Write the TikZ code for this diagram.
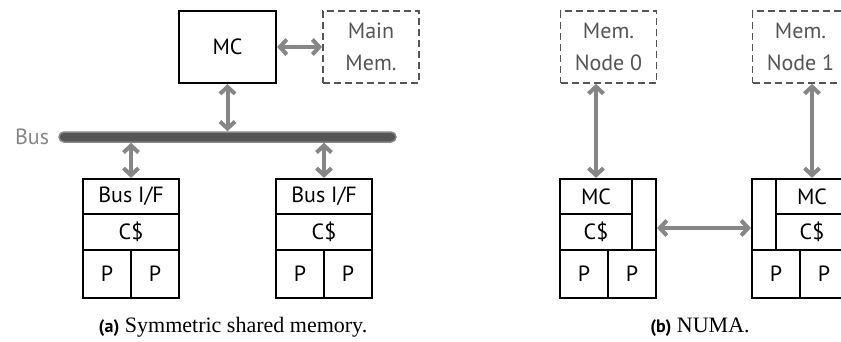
\documentclass[tikz,border=0pt]{standalone}
\usepackage{fontspec}
\setmainfont{Liberation Serif}
\newfontfamily\diagfont{PT Sans}
\usetikzlibrary{arrows.meta,positioning}
\definecolor{linkgray}{HTML}{868686}
\definecolor{memgray}{HTML}{555555}

\begin{document}
\begin{tikzpicture}[x=1pt, y=-1pt,
	every node/.style={font=\diagfont\fontsize{22}{32}\selectfont, inner sep=0pt, align=center},
	>={Straight Barb[length=7pt, width=15pt]},
	box/.style={draw, line width=2.2pt, minimum width=#1},
	mem/.style={draw=memgray, text=memgray, dashed, dash pattern=on 7pt off 4pt, line width=1.8pt, minimum width=96, minimum height=72},
	link/.style={<->, linkgray, line width=4pt},
	caption/.style={font=\fontsize{22}{26}\selectfont}]
	\clip (0,0) rectangle (841,341);

	% (a) symmetric shared memory
	\node[box=97, minimum height=72] (mc) at (227.5,47) {MC};
	\node[mem] (mainmem) at (371,47) {Main\\Mem.};
	\node[draw=linkgray, fill=memgray, line width=1.5pt, rounded corners=5pt, minimum width=337, minimum height=10] (bus) at (227.5,137) {};
	\node[left=9pt of bus, text=linkgray] (buslabel) {Bus};
	\foreach \i/\x in {1/131, 2/324} {
		\node[box=96, minimum height=35] (bif\i) at (\x,196.5) {Bus I/F};
		\node[box=96, minimum height=36] (cache\i) at (\x,232) {C\$};
		\node[box=48, minimum height=48] (pa\i) at (\x-24,274) {P};
		\node[box=48, minimum height=48] (pb\i) at (\x+24,274) {P};
		\draw[link] (bus.south -| bif\i.north) -- (bif\i.north);
	}
	\draw[link] (mc) -- (mainmem);
	\draw[link] (mc.south) -- (mc.south |- bus.north);
	\node[caption] (capa) at (233,327) {{\diagfont\bfseries\fontsize{18}{22}\selectfont (a)} Symmetric shared memory.};

	% (b) NUMA
	\node[mem] (mem0) at (608.5,47) {Mem.\\Node 0};
	\node[mem] (mem1) at (800.5,47) {Mem.\\Node 1};
	\foreach \i/\x/\s in {0/560/632, 1/776/752} {
		\node[box=72, minimum height=35] (mcn\i) at (\x+36,196.5) {MC};
		\node[box=72, minimum height=36] (csn\i) at (\x+36,232) {C\$};
		\node[box=24, minimum height=71] (side\i) at (\s+12,214.5) {};
		\draw[link] (mem\i.south -| mcn\i.north) -- (mcn\i.north);
	}
	\foreach \i/\x in {0/560, 1/752} {
		\node[box=48, minimum height=48] (pna\i) at (\x+24,274) {P};
		\node[box=48, minimum height=48] (pnb\i) at (\x+72,274) {P};
	}
	\draw[link] ([yshift=-13.5pt]side0.east) -- ([yshift=-13.5pt]side1.west);
	\node[caption] (capb) at (700,327) {{\diagfont\bfseries\fontsize{18}{22}\selectfont (b)} NUMA.};
\end{tikzpicture}
\end{document}
